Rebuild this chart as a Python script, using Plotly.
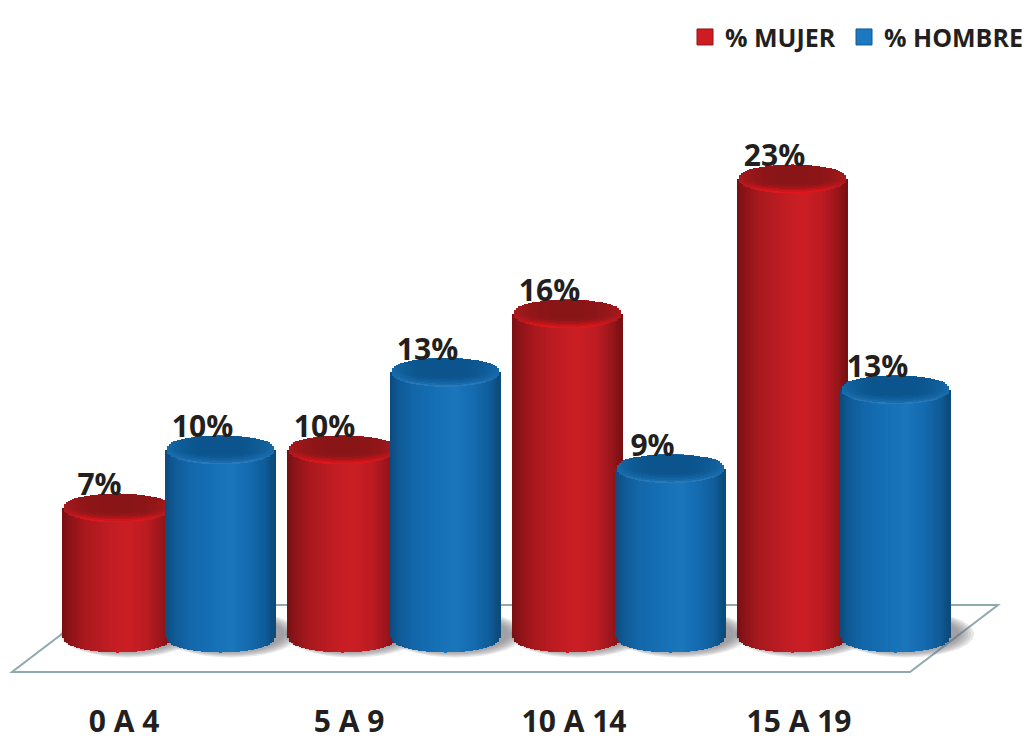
import plotly.graph_objects as go
import math

categories = ["0 A 4", "5 A 9", "10 A 14", "15 A 19"]
mujer = [6.6, 9.55, 16.45, 23.3]
hombre = [9.55, 13.49, 8.6, 12.6]
series_names = ["% MUJER", "% HOMBRE"]

W, H = 1028, 742
MB = 65
PX_X = 225.0
PX_Y = 19.7
X0_PX, Y0_PX = 169.0, 638.0
xr = [-X0_PX / PX_X, (W - X0_PX) / PX_X]
yr = [-(H - MB - Y0_PX) / PX_Y, Y0_PX / PX_Y]
OFFSET = 51.5 / PX_X
RX = 54.5 / PX_X
RY = 14.5 / PX_Y
STEP = 2.0 / PX_X
STRIP = 2.7 / PX_X

RED_SIDE = [(0, "#7a1013"), (.07, "#8f1419"), (.2, "#a9191e"), (.42, "#c01d23"), (.6, "#cc1f25"),
            (.78, "#bb1c22"), (.92, "#98161b"), (1, "#7a1013")]
BLUE_SIDE = [(0, "#0d4c7e"), (.07, "#0f5a95"), (.2, "#1366a9"), (.42, "#1670b5"), (.6, "#1b76bc"),
             (.78, "#146aae"), (.92, "#0f5c98"), (1, "#0c4b7a")]
RED_CAP = ["#e2161c", "#d0151b", "#bb151a", "#a71519", "#981518", "#8f1518", "#8a1517"]
BLUE_CAP = ["#2a7bbb", "#1c6cad", "#1565a5", "#11609e", "#0e5b97", "#0c5691", "#0b548d"]
RED_EDGE = "#a81a1e"
BLUE_EDGE = "#176aa9"


def hex2rgb(c):
    return [int(c[i:i + 2], 16) for i in (1, 3, 5)]


def mix(c1, c2, f):
    p, q = hex2rgb(c1), hex2rgb(c2)
    return "rgb(%d,%d,%d)" % tuple(p[i] + (q[i] - p[i]) * f for i in range(3))


def ramp(stops, t):
    for (a, ca), (b, cb) in zip(stops, stops[1:]):
        if t <= b:
            return mix(ca, cb, (t - a) / (b - a))
    return stops[-1][1]


def cylinder_trace(values, sign, side, cap, edge):
    xs, ys, bases, colors = [], [], [], []
    for i, v in enumerate(values):
        cx = i + sign * OFFSET
        n = int(2 * RX / STEP)
        for k in range(n + 1):
            t = k / n
            u = 2 * t - 1
            e = RY * math.sqrt(max(0, 1 - u * u))
            xs.append(cx + u * RX * (1 - 0.5 / n))
            bases.append(-e)
            ys.append(v)
            colors.append(ramp(side, t))
        # elliptical cap, as nested layers
        for j, col in enumerate(cap):
            f = j / (len(cap) - 1)
            sx = 1 - 0.06 * f
            sy = 1 - 0.34 * f
            up = RY * 0.30 * f
            for k in range(n + 1):
                u = 2 * k / n - 1
                if abs(u) > sx:
                    continue
                e = RY * sy * math.sqrt(max(0, 1 - (u / sx) ** 2))
                xs.append(cx + u * RX * (1 - 0.5 / n))
                bases.append(v + up - e)
                ys.append(2 * e)
                colors.append(mix(col, edge, abs(u) ** 3))
    return go.Bar(x=xs, y=ys, base=bases, width=STRIP, marker=dict(color=colors, line=dict(width=0)),
                  showlegend=False, hoverinfo="skip")


fig = go.Figure()
fig.add_trace(cylinder_trace(mujer, -1, RED_SIDE, RED_CAP, RED_EDGE))
fig.add_trace(cylinder_trace(hombre, 1, BLUE_SIDE, BLUE_CAP, BLUE_EDGE))

lab_x, lab_y, lab_t = [], [], []
for sign, vals in ((-1, mujer), (1, hombre)):
    for i, v in enumerate(vals):
        lab_x.append(i + sign * OFFSET - 18 / PX_X)
        lab_y.append(v + 20 / PX_Y)
        lab_t.append("%d%%" % round(v))
fig.add_trace(go.Scatter(x=lab_x, y=lab_y, text=lab_t, mode="text", textposition="middle center",
                         textfont=dict(family="Open Sans", size=30, color="#231f20", weight=700),
                         showlegend=False, hoverinfo="skip"))

for name, col, lg in zip(series_names, ("#cf1c22", "#1c78c0"), ("legend", "legend2")):
    fig.add_trace(go.Scatter(x=[None], y=[None], mode="markers", name=name, legend=lg,
                             marker=dict(symbol="square", size=16, color=col,
                                         line=dict(width=1, color="#8e1518" if col == "#cf1c22" else "#0e5a97"))))


def xd(px):
    return (px - X0_PX) / PX_X


def yd(py):
    return (Y0_PX - py) / PX_Y


shapes = []
floor = [(12, 672), (910, 672), (998, 605), (100, 605)]
path = "M " + " L ".join("%f,%f" % (xd(a), yd(b)) for a, b in floor) + " Z"
shapes.append(dict(type="path", path=path, xref="x", yref="y", layer="below",
                   line=dict(color="#8fa9b0", width=2), fillcolor="white"))
# soft shadows on the floor
for sign, vals in ((-1, mujer), (1, hombre)):
    for i in range(len(vals)):
        cx = i + sign * OFFSET
        for g in range(6):
            gx = (18 - 3 * g) / PX_X
            gy = (5 - 1.2 * g) / PX_Y
            shapes.append(dict(type="circle", xref="x", yref="y", layer="below",
                               x0=cx - RX - gx * 0.5 + 6 / PX_X, x1=cx + RX + gx + 6 / PX_X,
                               y0=-RY - gy, y1=RY + gy + 8 / PX_Y,
                               fillcolor="rgba(110,115,118,0.16)", line=dict(width=0)))

legend_font = dict(family="Open Sans", size=25, color="#231f20", weight=700)
fig.update_layout(
    width=W, height=H, margin=dict(l=0, r=0, t=0, b=MB),
    paper_bgcolor="white", plot_bgcolor="white",
    barmode="overlay", bargap=0,
    shapes=shapes,
    showlegend=True,
    legend=dict(orientation="h", x=841 / W, xanchor="right", y=0.979, yanchor="top", font=legend_font,
                bgcolor="rgba(0,0,0,0)", itemclick=False, itemdoubleclick=False),
    legend2=dict(orientation="h", x=1.0, xanchor="right", y=0.979, yanchor="top", font=legend_font,
                 bgcolor="rgba(0,0,0,0)", itemclick=False, itemdoubleclick=False),
    xaxis=dict(range=xr, tickmode="array", tickvals=[i - 45 / PX_X for i in range(len(categories))],
               ticktext=categories, showgrid=False, zeroline=False, showline=False, automargin=False,
               ticks="outside", ticklen=18, tickcolor="rgba(0,0,0,0)",
               tickfont=dict(family="Open Sans", size=30, color="#231f20", weight=700)),
    yaxis=dict(range=yr, visible=False, showgrid=False, zeroline=False, automargin=False),
)
fig.write_html("out.html", config=dict(displayModeBar=False),
               post_script="document.body.style.margin='0';document.documentElement.style.overflow='hidden';")
